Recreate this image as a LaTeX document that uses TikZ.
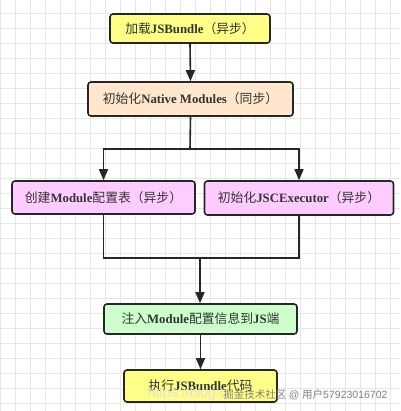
\documentclass[tikz,border=0pt]{standalone}
\usepackage{fontspec}
\setmainfont{Liberation Serif}
\newfontfamily\cjkf{Noto Sans CJK SC}
\newcommand{\cjk}{\mdseries\cjkf}
\newfontfamily\wmfont{Liberation Sans}
\usetikzlibrary{arrows.meta}
\definecolor{yel}{HTML}{FFFF88}
\definecolor{peach}{HTML}{FFE6CC}
\definecolor{pinkc}{HTML}{FFCCFF}
\definecolor{greenc}{HTML}{CCFFCC}
\definecolor{gridc}{HTML}{E6E6E6}
\definecolor{edgec}{HTML}{262626}
\definecolor{txt}{HTML}{333333}
\begin{document}
\begin{tikzpicture}[x=1pt,y=-1pt,
  box/.style={draw=edgec, line width=1.6pt, rounded corners=3pt, inner sep=0pt,
    text=txt, font=\fontsize{12.8}{14}\selectfont\bfseries},
  conn/.style={draw=edgec, line width=1.6pt},
  arr/.style={conn, -{Triangle[length=11pt,width=9pt]}}]
\useasboundingbox (0,0) rectangle (400,411);
\fill[white] (0,0) rectangle (400,411);
\foreach \x in {0,15,...,399} \draw[gridc, line width=0.6pt] (\x,0) -- (\x,411);
\foreach \y in {13,28,...,411} \draw[gridc, line width=0.6pt] (0,\y) -- (400,\y);

\node[box, fill=yel, minimum width=160pt, minimum height=29pt] (b1) at (190,28.5)
  {{\cjk 加载}JSBundle{\cjk （异步）}};
\node[box, fill=peach, minimum width=205pt, minimum height=34pt] (b2) at (190.5,99)
  {{\cjk 初始化}Native Modules{\cjk （同步）}};
\node[box, fill=pinkc, minimum width=183pt, minimum height=33pt] (b3) at (103.5,197.5)
  {{\cjk 创建}Module{\cjk 配置表（异步）}};
\node[box, fill=pinkc, minimum width=189pt, minimum height=34pt] (b4) at (299,198)
  {{\cjk 初始化}JSCExecutor{\cjk （异步）}};
\node[box, fill=greenc, minimum width=193pt, minimum height=30pt] (b5) at (200.5,319)
  {{\cjk 注入}Module{\cjk 配置信息到}JS{\cjk 端}};
\node[box, fill=yel, minimum width=153pt, minimum height=32pt] (b6) at (200.5,386)
  {{\cjk 执行}JSBundle{\cjk 代码}};

\coordinate (s) at (190,149);
\coordinate (m) at (200,258);
\draw[arr] (b1.south) -- (b2.north);
\draw[conn] (b2.south) -- (s);
\draw[arr] (s) -| (b3.north);
\draw[arr] (s) -| (b4.north);
\draw[conn] (b3.south) |- (m);
\draw[conn] (b4.south) |- (m);
\draw[arr] (m) -- (m |- b5.north);
\draw[arr] (b5.south) -- (b6.north);

\node[text=black!12, font=\wmfont\fontsize{14}{14}\selectfont, anchor=west] (wm1) at (144,394) {https://blog.c};
\node[text=black!50, font=\fontsize{10.5}{11}\selectfont, anchor=east] (wm2) at (391,395)
  {{\cjk 掘金技术社区} {\wmfont @} {\cjk 用户}{\wmfont 57923016702}};
\end{tikzpicture}
\end{document}
